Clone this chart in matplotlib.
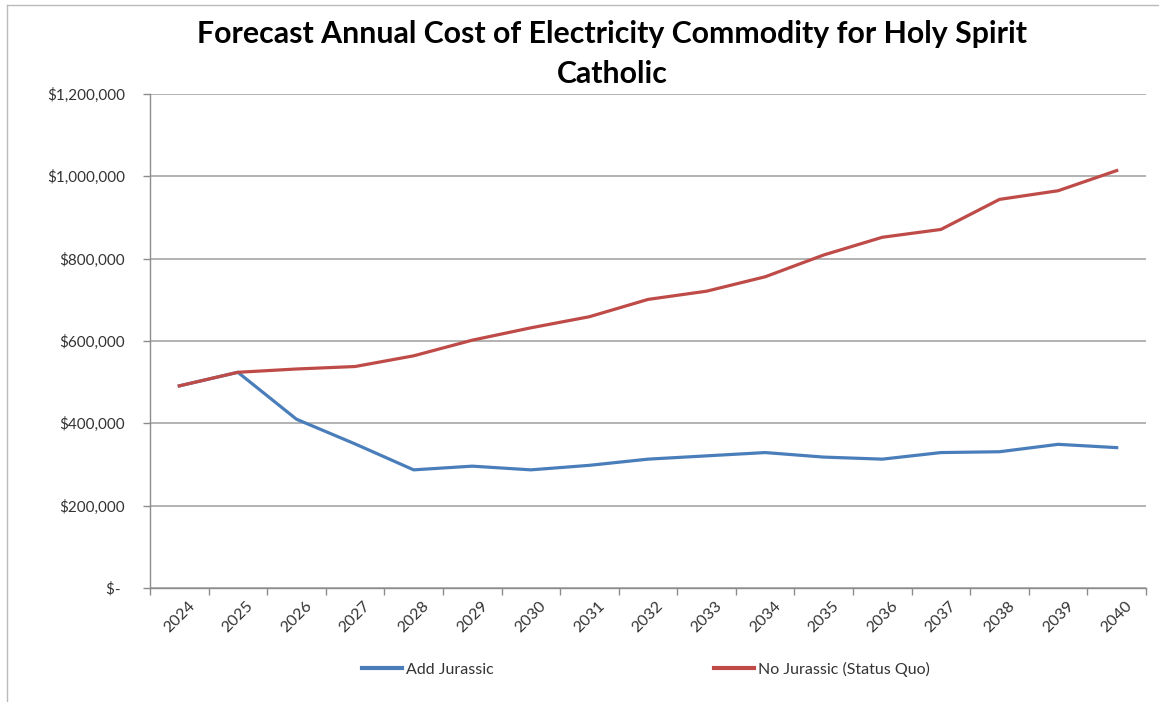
import matplotlib
matplotlib.use("Agg")
import matplotlib.pyplot as plt
from matplotlib.ticker import FuncFormatter, MultipleLocator, FixedLocator
from matplotlib.lines import Line2D

years = ["2024", "2025", "2026", "2027", "2028", "2029", "2030", "2031", "2032",
         "2033", "2034", "2035", "2036", "2037", "2038", "2039", "2040"]
add_jurassic = [491000, 524000, 410000, 350000, 287000, 296000, 287000, 298000, 313000,
                321000, 329000, 318000, 313000, 329000, 331000, 349000, 341000]
no_jurassic = [491000, 524000, 532000, 538000, 564000, 602000, 632000, 659000, 701000,
               721000, 756000, 809000, 852000, 871000, 944000, 965000, 1014000]
series_names = ["Add Jurassic", "No Jurassic (Status Quo)"]
title = "Forecast Annual Cost of Electricity Commodity for Holy Spirit\nCatholic"

BLUE = "#4A7EBB"
RED = "#BE4B48"
GRID = "#ADADAD"
TXT = "#333333"

plt.rcParams['font.family'] = ['Lato', 'DejaVu Sans']

W, H = 1159, 702
fig = plt.figure(figsize=(W / 100, H / 100), dpi=100)
fig.patch.set_facecolor("white")

L, R, T, B = 150, 1146, 94, 588
ax = fig.add_axes([L / W, 1 - B / H, (R - L) / W, (B - T) / H])

x = list(range(len(years)))
ax.plot(x, add_jurassic, color=BLUE, lw=2.3, solid_joinstyle="round", zorder=3)
ax.plot(x, no_jurassic, color=RED, lw=2.3, solid_joinstyle="round", zorder=4)

ax.set_xlim(-0.5, len(years) - 0.5)
ax.set_ylim(0, 1200000)
ax.yaxis.set_major_locator(MultipleLocator(200000))


def fmt(v, pos):
    if v == 0:
        return "$- "
    return "${:,.0f}".format(v)


ax.yaxis.set_major_formatter(FuncFormatter(fmt))
ax.grid(axis="y", color=GRID, lw=1.3)
ax.set_axisbelow(True)

ax.xaxis.set_major_locator(FixedLocator([i - 0.5 for i in range(len(years) + 1)]))
ax.xaxis.set_ticklabels([])
ax.xaxis.set_minor_locator(FixedLocator(x))
ax.xaxis.set_ticklabels(years, minor=True)
ax.tick_params(axis="x", which="minor", length=0, pad=8, labelsize=11.5, labelcolor=TXT,
               labelrotation=45)
for lab in ax.xaxis.get_minorticklabels():
    lab.set_ha("center")
ax.tick_params(axis="x", which="major", length=5, color="#8C8C8C", width=1)
ax.tick_params(axis="y", length=5, color="#8C8C8C", width=1, labelsize=11,
               labelcolor=TXT, pad=13)

for s in ["top", "right"]:
    ax.spines[s].set_visible(False)
for s in ["left", "bottom"]:
    ax.spines[s].set_color("#8C8C8C")
    ax.spines[s].set_linewidth(1)

fig.text(612 / W, 1 - 54 / H, title, ha="center", va="center", fontsize=21.8,
         fontweight="bold", color="black", linespacing=1.5)

handles = [Line2D([0], [0], color=BLUE, lw=3), Line2D([0], [0], color=RED, lw=3)]
fig.legend(handles, series_names, loc="center", bbox_to_anchor=(646 / W, 1 - 669 / H),
           ncol=2, frameon=False, fontsize=11.5, handlelength=2.5, handletextpad=0.25,
           columnspacing=13.8, labelcolor=TXT)

# border lines (left and top) of the chart area
fig.add_artist(Line2D([7 / W, 7 / W], [0, 1 - 5 / H], color="#BBBBBB", lw=1,
                      transform=fig.transFigure))
fig.add_artist(Line2D([7 / W, 1], [1 - 5 / H, 1 - 5 / H], color="#BBBBBB", lw=1,
                      transform=fig.transFigure))

fig.savefig("out.png", dpi=100)
